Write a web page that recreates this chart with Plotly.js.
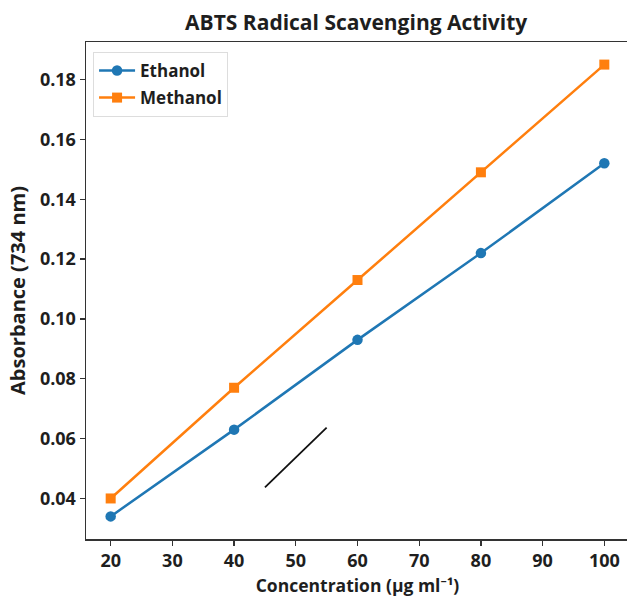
<!DOCTYPE html>
<html>
<head>
<meta charset="utf-8">
<script src="https://cdn.plot.ly/plotly-3.0.1.min.js"></script>
<style>
html,body{margin:0;padding:0;overflow:hidden;background:#fff;}
#chart{width:636px;height:597px;}
</style>
</head>
<body>
<div id="chart"></div>
<script>
const concentrations = [20, 40, 60, 80, 100];
const ethanolAbs = [0.034, 0.063, 0.093, 0.122, 0.152];
const methanolAbs = [0.040, 0.077, 0.113, 0.149, 0.185];
const xTickVals = [20, 30, 40, 50, 60, 70, 80, 90, 100];
const yTickVals = [0.04, 0.06, 0.08, 0.10, 0.12, 0.14, 0.16, 0.18];
const yTickText = ['0.04', '0.06', '0.08', '0.10', '0.12', '0.14', '0.16', '0.18'];
const strokeX = [45, 55];
const strokeY = [0.0437, 0.0637];

const FONT = 'Open Sans, Noto Sans, Arial, sans-serif';
const DARK = '#1e1e1e';

const traces = [
  {
    x: concentrations, y: ethanolAbs, name: 'Ethanol', mode: 'lines+markers',
    legendgroup: 'eth',
    line: {color: '#1f77b4', width: 2.5},
    marker: {symbol: 'circle', size: 10.5, color: '#1f77b4'}
  },
  {
    x: concentrations, y: methanolAbs, name: 'Methanol', mode: 'lines+markers',
    legendgroup: 'meth',
    line: {color: '#ff7f0e', width: 2.5},
    marker: {symbol: 'square', size: 10, color: '#ff7f0e'}
  },
  {
    x: strokeX, y: strokeY, mode: 'lines', showlegend: false, hoverinfo: 'skip',
    line: {color: '#111', width: 1.8}
  }
];

const layout = {
  width: 636, height: 597,
  margin: {l: 86, r: 7, t: 42, b: 58},
  paper_bgcolor: '#fff', plot_bgcolor: '#fff',
  font: {family: FONT, color: DARK, size: 16, weight: 'bold'},
  title: {
    text: '<b>ABTS Radical Scavenging Activity</b>',
    font: {family: FONT, size: 21, color: DARK},
    x: 0.56, xanchor: 'center', y: 0.962, yanchor: 'middle'
  },
  xaxis: {
    range: [16, 104],
    tickvals: xTickVals,
    ticks: 'outside', ticklen: 5, tickwidth: 1.2, tickcolor: '#333',
    showline: true, linecolor: '#333', linewidth: 1.5, mirror: true,
    showgrid: false, zeroline: false,
    tickfont: {family: FONT, size: 18, color: DARK, weight: 'bold'},
    title: {text: '<b>Concentration (µg ml⁻¹)</b>', font: {family: FONT, size: 17.5, color: DARK}, standoff: 8}
  },
  yaxis: {
    range: [0.02645, 0.19255],
    tickvals: yTickVals, ticktext: yTickText,
    ticks: 'outside', ticklen: 5, tickwidth: 1.2, tickcolor: '#333',
    showline: true, linecolor: '#333', linewidth: 1.5,
    showgrid: false, zeroline: false,
    tickfont: {family: FONT, size: 18, color: DARK, weight: 'bold'},
    title: {text: '<b>Absorbance (734 nm)</b>', font: {family: FONT, size: 20, color: DARK}, standoff: 9}
  },
  legend: {
    x: 0.013, xanchor: 'left', y: 0.98, yanchor: 'top',
    bgcolor: 'rgba(255,255,255,0.9)', bordercolor: '#ddd', borderwidth: 1,
    font: {family: FONT, size: 17, color: DARK, weight: 'bold'},
    itemwidth: 36, tracegroupgap: 2
  },
  showlegend: true
};

Plotly.newPlot('chart', traces, layout, {displayModeBar: false, staticPlot: true});
</script>
</body>
</html>
